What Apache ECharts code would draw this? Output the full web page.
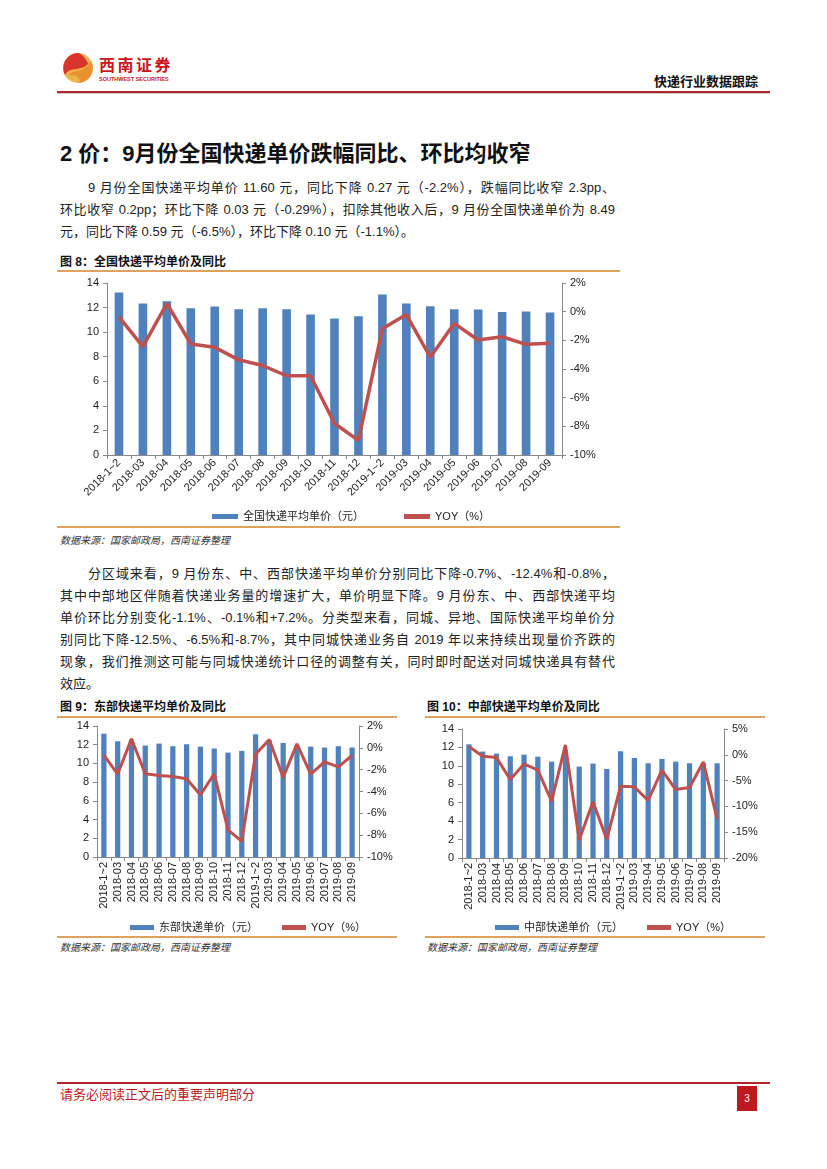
<!DOCTYPE html>
<html>
<head>
<meta charset="utf-8">
<script src="https://cdn.jsdelivr.net/npm/echarts@6/dist/echarts.min.js"></script>
<style>
  html,body{margin:0;padding:0;background:#fff;}
  #page{position:relative;width:827px;height:1169px;overflow:hidden;font-family:"Liberation Sans","Noto Sans CJK SC",sans-serif;color:#222;}
  .abs{position:absolute;}
  .line{position:absolute;left:60px;width:555px;font-size:13px;line-height:16px;white-space:nowrap;text-align:justify;text-align-last:justify;}
  .last{text-align-last:left;}
  .cap{position:absolute;font-size:12px;font-weight:bold;line-height:14px;white-space:nowrap;color:#111;}
  .src{position:absolute;font-size:10px;font-style:italic;line-height:12px;white-space:nowrap;color:#333;}
  .gold{position:absolute;height:1.5px;background:#DDA35E;}
</style>
</head>
<body>
<div id="page">
  <!-- header -->
  <svg class="abs" style="left:62px;top:52px" width="32" height="32" viewBox="0 0 32 32">
    <circle cx="16" cy="16" r="15" fill="#F0B44A"/>
    <path d="M16 1 A15 15 0 0 0 3 23 C8 14 18 20 26 12 C24 6 20 2 16 1 Z" fill="#D9342B"/>
    <path d="M29 9 A15 15 0 0 1 16 31 C22 28 12 20 6 24 C12 16 22 22 29 9 Z" fill="#E8912F"/>
  </svg>
  <div class="abs" style="left:99px;top:55px;font-size:16px;font-weight:bold;color:#C8161D;letter-spacing:2.5px;line-height:19px;font-family:'Noto Sans CJK SC';">西南证券</div>
  <div class="abs" style="left:99px;top:76px;font-size:5.5px;font-weight:bold;color:#C8161D;line-height:6px;white-space:nowrap;">SOUTHWEST SECURITIES</div>
  <div class="abs" style="left:654px;top:74px;font-size:13px;font-weight:bold;line-height:16px;color:#111;white-space:nowrap;">快递行业数据跟踪</div>
  <div class="abs" style="left:57px;top:91px;width:713px;height:2px;background:#B0262C;"></div>
  <div class="abs" style="left:57px;top:93px;width:713px;height:1px;background:#ccc;"></div>

  <!-- section heading -->
  <div class="abs" style="left:60px;top:141px;font-size:22px;font-weight:bold;line-height:26px;white-space:nowrap;color:#111;">2 价：9月份全国快递单价跌幅同比、环比均收窄</div>

  <div class="line" style="top:180px;left:88px;width:527px;">9 月份全国快递平均单价 11.60 元，同比下降 0.27 元（-2.2%），跌幅同比收窄 2.3pp、</div>
  <div class="line" style="top:202px;">环比收窄 0.2pp；环比下降 0.03 元（-0.29%），扣除其他收入后，9 月份全国快递单价为 8.49</div>
  <div class="line last" style="top:224px;">元，同比下降 0.59 元（-6.5%），环比下降 0.10 元（-1.1%）。</div>

  <div class="cap" style="left:60px;top:255px;">图 8：全国快递平均单价及同比</div>
  <div class="gold" style="left:57px;top:270px;width:563px;"></div>
  <div id="c8" class="abs" style="left:57px;top:272px;width:563px;height:253px;"></div>
  <div class="gold" style="left:57px;top:526px;width:563px;"></div>
  <div class="src" style="left:60px;top:535px;">数据来源：国家邮政局，西南证券整理</div>

  <div class="line" style="top:566px;left:88px;width:527px;">分区域来看，9 月份东、中、西部快递平均单价分别同比下降-0.7%、-12.4%和-0.8%，</div>
  <div class="line" style="top:588px;">其中中部地区伴随着快递业务量的增速扩大，单价明显下降。9 月份东、中、西部快递平均</div>
  <div class="line" style="top:610px;">单价环比分别变化-1.1%、-0.1%和+7.2%。分类型来看，同城、异地、国际快递平均单价分</div>
  <div class="line" style="top:632px;">别同比下降-12.5%、-6.5%和-8.7%，其中同城快递业务自 2019 年以来持续出现量价齐跌的</div>
  <div class="line" style="top:654px;">现象，我们推测这可能与同城快递统计口径的调整有关，同时即时配送对同城快递具有替代</div>
  <div class="line last" style="top:676px;">效应。</div>

  <div class="cap" style="left:60px;top:700px;">图 9：东部快递平均单价及同比</div>
  <div class="gold" style="left:57px;top:716px;width:340px;"></div>
  <div id="c9" class="abs" style="left:57px;top:718px;width:340px;height:217px;"></div>
  <div class="gold" style="left:57px;top:936px;width:340px;"></div>
  <div class="src" style="left:60px;top:942px;">数据来源：国家邮政局，西南证券整理</div>

  <div class="cap" style="left:427px;top:700px;">图 10：中部快递平均单价及同比</div>
  <div class="gold" style="left:425px;top:716px;width:340px;"></div>
  <div id="c10" class="abs" style="left:425px;top:718px;width:340px;height:217px;"></div>
  <div class="gold" style="left:425px;top:936px;width:340px;"></div>
  <div class="src" style="left:427px;top:942px;">数据来源：国家邮政局，西南证券整理</div>

  <!-- footer -->
  <div class="abs" style="left:57px;top:1082px;width:713px;height:1.5px;background:#B0262C;"></div>
  <div class="abs" style="left:60px;top:1087px;font-size:13px;line-height:16px;color:#C0181F;white-space:nowrap;">请务必阅读正文后的重要声明部分</div>
  <div class="abs" style="left:737px;top:1086px;width:20px;height:25px;background:#C0181F;color:#fff;font-size:10px;line-height:25px;text-align:center;">3</div>
</div>

<script>
const categories = ['2018-1~2','2018-03','2018-04','2018-05','2018-06','2018-07','2018-08','2018-09','2018-10','2018-11','2018-12','2019-1~2','2019-03','2019-04','2019-05','2019-06','2019-07','2019-08','2019-09'];

const nationalPrice = [13.22,12.33,12.52,11.95,12.08,11.87,11.95,11.87,11.44,11.11,11.30,13.06,12.33,12.11,11.87,11.84,11.63,11.68,11.60];
const nationalYoy   = [-0.36,-2.44,0.57,-2.25,-2.49,-3.36,-3.76,-4.47,-4.47,-7.80,-8.98,-1.19,-0.20,-3.18,-0.82,-1.98,-1.75,-2.28,-2.20];

const eastPrice = [13.18,12.37,12.53,11.91,12.12,11.84,12.05,11.80,11.59,11.16,11.34,13.11,12.46,12.19,11.95,11.80,11.70,11.84,11.70];
const eastYoy   = [-0.67,-2.40,0.82,-2.37,-2.53,-2.62,-2.83,-4.32,-2.37,-7.51,-8.57,-0.58,0.75,-2.71,0.36,-2.40,-1.28,-1.74,-0.70];

const centralPrice = [12.34,11.55,11.33,11.04,11.22,11.00,10.46,11.73,9.92,10.25,9.67,11.58,10.86,10.28,10.75,10.46,10.28,10.30,10.28];
const centralYoy   = [1.59,-0.28,-0.54,-4.79,-1.77,-2.99,-8.98,1.91,-16.52,-9.11,-16.39,-6.08,-6.21,-8.85,-2.99,-6.73,-6.34,-1.38,-12.40];

const seriesNames = {
  national: ['全国快递平均单价（元）','YOY（%）'],
  east: ['东部快递单价（元）','YOY（%）'],
  central: ['中部快递单价（元）','YOY（%）']
};

const BLUE = '#4F81BD', RED = '#C0504D', AX = '#888888';
const FONT = '"Liberation Sans","Noto Sans CJK SC",sans-serif';

function build(el, cfg){
  const chart = echarts.init(document.getElementById(el), null, {renderer:'canvas'});
  chart.setOption({
    animation:false,
    textStyle:{fontFamily:FONT},
    grid:cfg.grid,
    legend:{
      data:[{name:cfg.names[0],icon:'rect'},{name:cfg.names[1],icon:'rect',itemStyle:{color:RED}}],
      left:cfg.legendLeft, top:cfg.legendTop,
      itemWidth:cfg.legendW||26, itemHeight:5, itemGap:cfg.legendGap,
      textStyle:{fontSize:11,color:'#222',fontFamily:FONT}
    },
    xAxis:{
      type:'category', data:categories,
      axisLine:{lineStyle:{color:AX}},
      axisTick:{show:true,length:4,lineStyle:{color:AX}},
      axisLabel:{interval:0,rotate:cfg.rotate,fontSize:cfg.xFont,color:'#222',margin:cfg.xMargin,fontFamily:FONT}
    },
    yAxis:[
      {type:'value',min:0,max:14,interval:2,
       axisLine:{show:true,lineStyle:{color:AX}},
       axisTick:{show:true,length:4,lineStyle:{color:AX}},
       splitLine:{show:false},
       axisLabel:{fontSize:cfg.yFont,color:'#222',margin:cfg.yMargin}},
      {type:'value',min:cfg.rmin,max:cfg.rmax,interval:cfg.rint,
       axisLine:{show:true,lineStyle:{color:AX}},
       axisTick:{show:true,length:4,lineStyle:{color:AX}},
       splitLine:{show:false},
       axisLabel:{fontSize:cfg.yFont,color:'#222',formatter:'{value}%',margin:cfg.yMargin}}
    ],
    series:[
      {name:cfg.names[0],type:'bar',data:cfg.bars,barWidth:cfg.barWidth,itemStyle:{color:BLUE}},
      {name:cfg.names[1],type:'line',yAxisIndex:1,data:cfg.line,symbol:'none',
       lineStyle:{color:RED,width:cfg.lineW},itemStyle:{color:RED}}
    ]
  });
}

build('c8',{
  grid:{left:50,right:58,top:11,bottom:70},
  names:seriesNames.national, bars:nationalPrice, line:nationalYoy,
  rmin:-10,rmax:2,rint:2, rotate:45, xFont:11, xMargin:6, yFont:11, yMargin:8,
  barWidth:'36%', lineW:3.5, legendLeft:150, legendTop:234, legendGap:40
});
build('c9',{
  grid:{left:40,right:38,top:8,bottom:78},
  names:seriesNames.east, bars:eastPrice, line:eastYoy,
  rmin:-10,rmax:2,rint:2, rotate:90, xFont:11, xMargin:5, yFont:11, yMargin:8,
  barWidth:'38%', lineW:3, legendLeft:68, legendTop:199, legendGap:24, legendW:24
});
build('c10',{
  grid:{left:37,right:41,top:11,bottom:77},
  names:seriesNames.central, bars:centralPrice, line:centralYoy,
  rmin:-20,rmax:5,rint:5, rotate:90, xFont:11, xMargin:5, yFont:11, yMargin:8,
  barWidth:'38%', lineW:3, legendLeft:65, legendTop:199, legendGap:24, legendW:24
});
</script>
</body>
</html>
